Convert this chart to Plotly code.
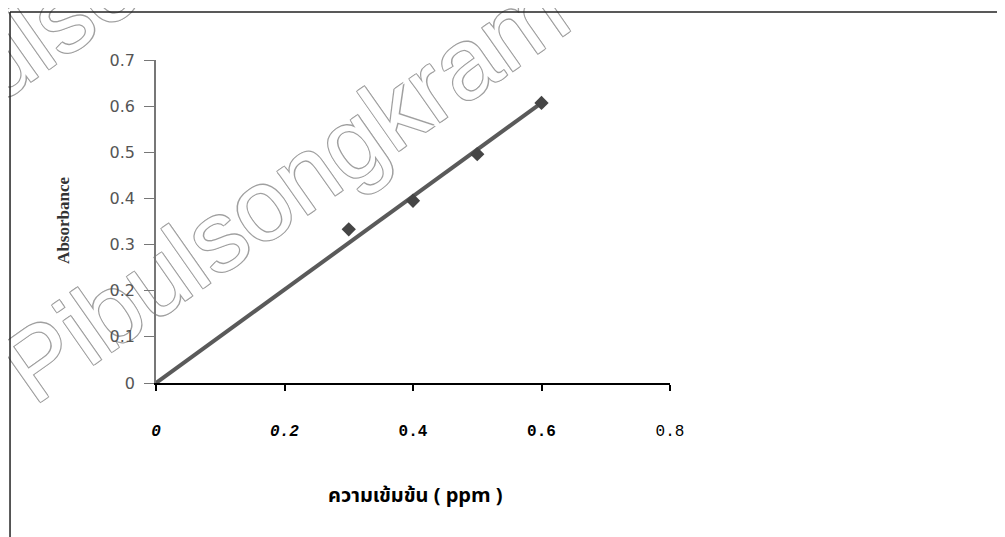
import plotly.graph_objects as go

# ---- data ----
conc = [0.3, 0.4, 0.5, 0.6]                 # ppm
absorbance = [0.333, 0.395, 0.496, 0.607]

x_ticks = [0, 0.2, 0.4, 0.6, 0.8]
x_ticklabels = ["<i><b>0</b></i>", "<i><b>0.2</b></i>", "<b>0.4</b>", "<b>0.6</b>", "0.8"]
y_ticks = [0, 0.1, 0.2, 0.3, 0.4, 0.5, 0.6, 0.7]
y_ticklabels = ["0", "0.1", "0.2", "0.3", "0.4", "0.5", "0.6", "0.7"]

x_title = "ความเข้มข้น ( ppm )"
y_title = "Absorbance"
watermark = "Pibulsongkram Raj"

# linear trendline through the origin (least squares)
slope = sum(a * b for a, b in zip(conc, absorbance)) / sum(a * a for a in conc)
line_x = [0, max(conc)]
line_y = [slope * v for v in line_x]

fig = go.Figure()
fig.add_trace(go.Scatter(x=line_x, y=line_y, mode="lines",
                         line=dict(color="#5a5a5a", width=4), hoverinfo="skip"))
fig.add_trace(go.Scatter(x=conc, y=absorbance, mode="markers",
                         marker=dict(symbol="diamond", size=11, color="#454545")))

outline = ("1px 1px 0 #a0a0a0, -1px -1px 0 #a0a0a0, "
           "1px -1px 0 #a0a0a0, -1px 1px 0 #a0a0a0")
wm_font = dict(family="Liberation Sans Narrow, Liberation Sans, sans-serif",
               size=100, color="white", shadow=outline)


def wm_shape(x0, y0, x1, y1):
    # invisible guide line; its label follows the line's angle
    return dict(type="line", xref="paper", yref="paper", layer="below",
                x0=x0, y0=y0, x1=x1, y1=y1,
                line=dict(color="rgba(0,0,0,0)", width=0),
                label=dict(text=watermark, font=wm_font,
                           textposition="middle", xanchor="center", yanchor="middle"))


fig.update_layout(
    width=997, height=529,
    margin=dict(l=148, r=335, t=52, b=154, autoexpand=False),
    paper_bgcolor="white", plot_bgcolor="white",
    showlegend=False,
    xaxis=dict(range=[0, 0.8], tickvals=x_ticks, ticktext=x_ticklabels,
               ticks="outside", ticklen=6, tickwidth=1.5, tickcolor="black",
               showline=True, linecolor="black", linewidth=2,
               showgrid=False, zeroline=False, ticklabelstandoff=26,
               tickfont=dict(family="Liberation Mono, DejaVu Sans Mono, monospace",
                             size=16, color="black")),
    yaxis=dict(range=[0, 0.7], tickvals=y_ticks, ticktext=y_ticklabels,
               ticks="outside", ticklen=10, tickwidth=1.2, tickcolor="#777",
               showline=True, linecolor="#777", linewidth=1.5,
               showgrid=False, zeroline=False, ticklabelstandoff=6,
               tickfont=dict(family="DejaVu Sans, sans-serif", size=16, color="#555")),
    annotations=[
        dict(text="<b>" + x_title + "</b>", xref="paper", yref="paper",
             x=0.504, y=-0.35, showarrow=False, xanchor="center", yanchor="middle",
             font=dict(family="Noto Sans Thai, Noto Sans, DejaVu Sans, sans-serif",
                       size=20, color="black")),
        dict(text="<b>" + y_title + "</b>", xref="paper", yref="paper",
             x=-0.179, y=0.505, showarrow=False, textangle=-90,
             xanchor="center", yanchor="middle",
             font=dict(family="Liberation Serif, serif", size=17, color="#333")),
    ],
    shapes=[
        wm_shape(-0.202, 0.133, 0.965, 1.434),
        wm_shape(-0.502, 0.811, 0.665, 2.112),
        dict(type="line", xref="paper", yref="paper", x0=-0.284, x1=1.652,
             y0=1.1486, y1=1.1486, line=dict(color="#222", width=1.5)),
        dict(type="line", xref="paper", yref="paper", x0=-0.284, x1=-0.284,
             y0=1.1486, y1=-0.48, line=dict(color="#222", width=1.5)),
    ],
)

fig.write_html("out.html")
